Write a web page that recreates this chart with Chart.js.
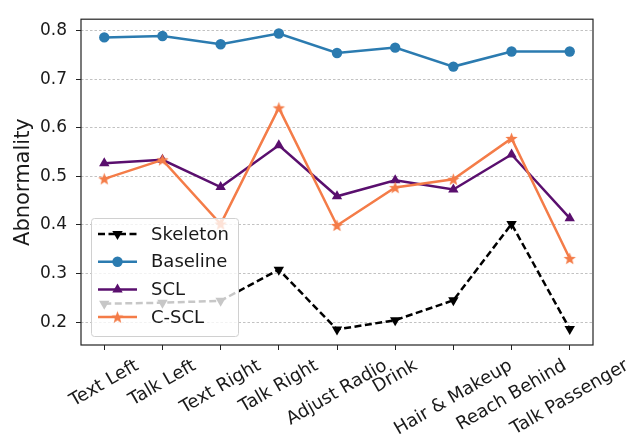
<!DOCTYPE html>
<html><head><meta charset="utf-8">
<script src="https://cdn.jsdelivr.net/npm/chart.js@4"></script>
<style>html,body{margin:0;padding:0;background:#fff}#wrap{width:641px;height:446px}</style>
</head><body><div id="wrap"><canvas id="c" width="641" height="446"></canvas></div>
<script>
const categories = ["Text Left","Talk Left","Text Right","Talk Right","Adjust Radio","Drink","Hair & Makeup","Reach Behind","Talk Passenger"];
const skeleton = [0.238,0.240,0.244,0.308,0.185,0.204,0.245,0.402,0.186];
const baseline = [0.786,0.789,0.772,0.794,0.754,0.765,0.726,0.757,0.757];
const scl      = [0.527,0.534,0.478,0.564,0.459,0.492,0.473,0.545,0.414];
const cscl     = [0.495,0.534,0.402,0.641,0.399,0.477,0.494,0.578,0.331];
const yTicks = [0.2,0.3,0.4,0.5,0.6,0.7,0.8];
const seriesNames = ["Skeleton","Baseline","SCL","C-SCL"];
const yTitle = "Abnormality";

const COLORS = {skel:'#000000', base:'#2b7bb0', scl:'#5a0f6e', cscl:'#f47c48'};
const FONT = '"DejaVu Sans", sans-serif';
const LW = 2.5;

function starCanvas(color, r){
  const s = Math.ceil(r*2+2);
  const c = document.createElement('canvas'); c.width = s; c.height = s;
  const g = c.getContext('2d'); g.fillStyle = color; g.beginPath();
  for (let k=0;k<10;k++){ const rr = k%2 ? r*0.42 : r; const a = -Math.PI/2 + k*Math.PI/5;
    g.lineTo(s/2 + rr*Math.cos(a), s/2 + 0.5 + rr*Math.sin(a)); }
  g.closePath(); g.fill(); return c;
}
const star = starCanvas(COLORS.cscl, 6.5);

const toPts = arr => arr.map((v,i)=>({x:i, y:v}));

function drawMarker(ctx, type, x, y, color){
  ctx.save(); ctx.fillStyle = color; ctx.setLineDash([]);
  if (type==='circle'){ ctx.beginPath(); ctx.arc(x,y,5.2,0,Math.PI*2); ctx.fill(); }
  else if (type==='tri'||type==='triDown'){
    const r=6, s = type==='tri'?1:-1; ctx.beginPath();
    for (let k=0;k<3;k++){ const a = k*2*Math.PI/3; ctx.lineTo(x + Math.sin(a)*r, y - s*Math.cos(a)*r); }
    ctx.closePath(); ctx.fill();
  } else if (type==='star'){ ctx.drawImage(star, x-star.width/2, y-star.height/2); }
  ctx.restore();
}

const framePlugin = {
  id:'frame',
  afterDatasetsDraw(chart){
    const {ctx, chartArea:a} = chart;
    const L = a.left + 10, B = a.bottom - 9, W = 147, H = 118, T = B - H;
    ctx.save();
    ctx.beginPath();
    if (ctx.roundRect) ctx.roundRect(L+0.5, T+0.5, W, H, 3); else ctx.rect(L+0.5,T+0.5,W,H);
    ctx.fillStyle = 'rgba(255,255,255,0.78)'; ctx.fill();
    ctx.strokeStyle = '#d0d0d0'; ctx.lineWidth = 1; ctx.stroke();
    const items = [
      {name:seriesNames[0], color:COLORS.skel, dash:[7,3.5], m:'triDown'},
      {name:seriesNames[1], color:COLORS.base, dash:[], m:'circle'},
      {name:seriesNames[2], color:COLORS.scl, dash:[], m:'tri'},
      {name:seriesNames[3], color:COLORS.cscl, dash:[], m:'star'}
    ];
    items.forEach((it,i)=>{
      const y = T + 16 + i*27.7;
      ctx.beginPath(); ctx.setLineDash(it.dash); ctx.lineWidth = LW; ctx.strokeStyle = it.color;
      ctx.moveTo(L+7, y); ctx.lineTo(L+46, y); ctx.stroke(); ctx.setLineDash([]);
      drawMarker(ctx, it.m, L+26.5, y, it.color);
      ctx.fillStyle = '#1a1a1a'; ctx.font = '18px ' + FONT; ctx.textAlign='left'; ctx.textBaseline='middle';
      ctx.fillText(it.name, L+60, y+1);
    });
    ctx.restore();
  },
  afterDraw(chart){
    const {ctx, chartArea:a} = chart;
    ctx.save();
    ctx.strokeStyle = '#222'; ctx.lineWidth = 1.2; ctx.setLineDash([]);
    ctx.strokeRect(a.left, a.top, a.right-a.left, a.bottom-a.top);
    const xs = chart.scales.x;
    ctx.font = '18px ' + FONT; ctx.fillStyle = '#1a1a1a';
    ctx.textAlign = 'center'; ctx.textBaseline = 'middle';
    const ang = 30*Math.PI/180, h = 18*1.1;
    categories.forEach((lab,i)=>{
      const x = xs.getPixelForValue(i);
      const w = ctx.measureText(lab).width;
      const bh = w*Math.sin(ang) + h*Math.cos(ang);
      const top = a.bottom + 11;
      ctx.save(); ctx.translate(x, top + bh/2); ctx.rotate(-ang); ctx.fillText(lab, 0, 0); ctx.restore();
    });
    ctx.restore();
  }
};

new Chart(document.getElementById('c'), {
  type:'line',
  data:{ datasets:[
    {label:seriesNames[0], data:toPts(skeleton), borderColor:COLORS.skel, backgroundColor:COLORS.skel, borderDash:[7,3.5], borderWidth:LW,
     pointStyle:'triangle', pointRotation:180, pointRadius:6, pointBorderWidth:0, order:4},
    {label:seriesNames[1], data:toPts(baseline), borderColor:COLORS.base, backgroundColor:COLORS.base, borderWidth:LW,
     pointStyle:'circle', pointRadius:5.2, pointBorderWidth:0, order:3},
    {label:seriesNames[2], data:toPts(scl), borderColor:COLORS.scl, backgroundColor:COLORS.scl, borderWidth:LW,
     pointStyle:'triangle', pointRadius:6, pointBorderWidth:0, order:2},
    {label:seriesNames[3], data:toPts(cscl), borderColor:COLORS.cscl, backgroundColor:COLORS.cscl, borderWidth:LW,
     pointStyle:star, pointRadius:6, pointBorderWidth:0, order:1}
  ]},
  options:{
    responsive:false, animation:false, devicePixelRatio:1,
    layout:{padding:{top:9.5, right:48, left:0, bottom:0}},
    plugins:{legend:{display:false}, tooltip:{enabled:false}},
    scales:{
      x:{ type:'linear', min:-0.4, max:8.4,
          afterBuildTicks(s){ s.ticks = categories.map((c,i)=>({value:i})); },
          afterFit(s){ s.height = 101; },
          ticks:{display:false},
          grid:{drawOnChartArea:false, drawTicks:true, tickLength:5, tickColor:'#222', tickWidth:1},
          border:{display:false} },
      y:{ type:'linear', min:0.153, max:0.8235,
          afterBuildTicks(s){ s.ticks = yTicks.map(v=>({value:v})); },
          afterFit(s){ s.width = 81; },
          ticks:{ color:'#1a1a1a', font:{family:FONT, size:17}, padding:9, callback:v=>v.toFixed(1) },
          grid:{ color:'#a8a8a8', lineWidth:0.7, drawTicks:true, tickLength:5, tickColor:'#222', tickWidth:1, tickBorderDash:[] },
          border:{display:false, dash:[2.5,2]},
          title:{display:true, text:yTitle, color:'#1a1a1a', font:{family:FONT, size:21}, padding:{top:11,bottom:0}} }
    }
  },
  plugins:[framePlugin]
});
</script></body></html>
